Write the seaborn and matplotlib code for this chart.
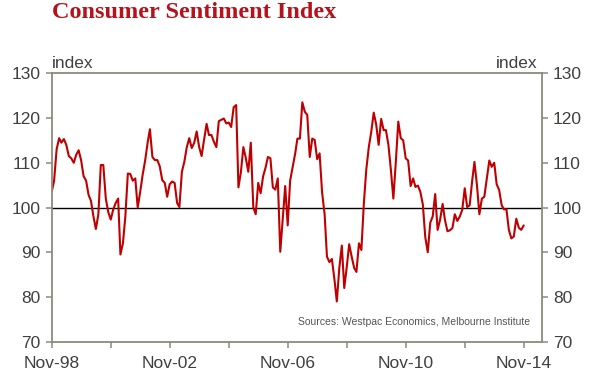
import pandas as pd
import matplotlib.pyplot as plt
import matplotlib.dates as mdates
import seaborn as sns

# Westpac-Melbourne Institute consumer sentiment, monthly from Nov-98
sentiment = [
    103.5, 106, 113, 115.5, 114.5, 115.3, 114, 111.5, 111, 110, 111.8, 112.8,
    110.5, 107, 106, 102.8, 101.5, 98, 95.2, 98.5, 109.5, 109.5, 102, 99,
    97.3, 99.5, 101, 102, 89.5, 92, 98, 107.6, 107.5, 106, 106.5, 100,
    103.5, 107.3, 110.5, 114.5, 117.5, 111.3, 110.6, 110.6, 109.2, 106.1, 105.5, 102.4,
    105.2, 105.8, 105.5, 101, 100.1, 108, 110.2, 113.5, 115.5, 113.3, 114.5, 117,
    113.5, 111.5, 115.2, 118.7, 116.2, 116.2, 114.7, 113.5, 119.3, 119.6, 119.9, 118.8,
    119, 118, 122.4, 122.9, 104.5, 108, 113.5, 111, 108, 114.5, 100, 98.5,
    105.5, 103.2, 107, 109, 111.3, 111, 104.5, 104, 106.5, 90.1, 97.5, 104.8,
    96, 106, 109, 112, 115.4, 115.4, 123.5, 121.4, 120.7, 111.3, 115.4, 115.1,
    110.8, 112.1, 103.3, 98.5, 89, 87.8, 88.5, 84, 79, 86.5, 91.5, 82,
    86.7, 91.8, 89, 86.5, 85.6, 92, 90.5, 101, 108.5, 113.5, 117, 121.2,
    118.5, 114, 119.8, 117.3, 117.3, 114, 108.5, 102, 110, 119.2, 115.5, 115,
    111, 110.5, 104.8, 106.5, 104.6, 104.9, 103.5, 100.7, 93.4, 90, 96.6, 98,
    103, 95, 97.3, 100.8, 97.2, 94.7, 94.9, 95.4, 98.5, 97, 98, 99.5,
    104.3, 100.1, 100.5, 106, 110.2, 105, 98.5, 102, 102.4, 106.5, 110.5, 109.1,
    110, 105.2, 103.9, 100.5, 99.6, 99.6, 95, 93.1, 93.5, 97.5, 95.5, 95,
    96,
]
dates = pd.date_range("1998-11-01", periods=len(sentiment), freq="MS")
df = pd.DataFrame({"date": dates, "index": sentiment})

major_years = [1998, 2002, 2006, 2010, 2014]
minor_years = [2000, 2004, 2008, 2012]
y_ticks = [70, 80, 90, 100, 110, 120, 130]

sns.set_style("white")
plt.rcParams["font.family"] = ["Liberation Sans", "DejaVu Sans"]

spine_col = "#8c8a78"
red = "#c00000"
text_col = "#404040"

fig = plt.figure(figsize=(5.9, 3.83), dpi=100)
ax = fig.add_axes([0.0876, 0.1078, 0.831, 0.7008])

sns.lineplot(data=df, x="date", y="index", color=red, linewidth=1.5, ax=ax)
ax.axhline(100, color="black", linewidth=1.0, zorder=1)

ax.set_xlim(pd.Timestamp("1998-11-01"), pd.Timestamp("2015-06-15"))
ax.set_ylim(70, 130)
ax.set_yticks(y_ticks)
ax.set_xticks([pd.Timestamp(f"{y}-11-01") for y in major_years])
ax.set_xticks([pd.Timestamp(f"{y}-11-01") for y in minor_years], minor=True)
ax.xaxis.set_major_formatter(mdates.DateFormatter("%b-%y"))
ax.set_xlabel("")
ax.set_ylabel("")

for s in ax.spines.values():
    s.set_color(spine_col)
    s.set_linewidth(1.3)

ax.tick_params(axis="both", which="both", direction="out", length=4, width=1.1,
               color=spine_col, labelsize=12.5, labelcolor=text_col)
ax.tick_params(axis="y", left=True, right=True, labelleft=True, labelright=True, pad=4)
ax.tick_params(axis="x", which="both", bottom=True, pad=6)

ax.text(0.0, 1.01, "index", transform=ax.transAxes, ha="left", va="bottom",
        fontsize=12.5, color=text_col)
ax.text(0.99, 1.01, "index", transform=ax.transAxes, ha="right", va="bottom",
        fontsize=12.5, color=text_col)
ax.text(0.975, 0.075, "Sources: Westpac Economics, Melbourne Institute",
        transform=ax.transAxes, ha="right", va="center", fontsize=7.5, color="#555555")

fig.text(0.088, 0.968, "Consumer Sentiment Index", ha="left", va="center",
         fontsize=17.5, fontweight="bold", family=["Liberation Serif", "DejaVu Serif"],
         color="#b5121b")

fig.savefig("out.png", dpi=100)
